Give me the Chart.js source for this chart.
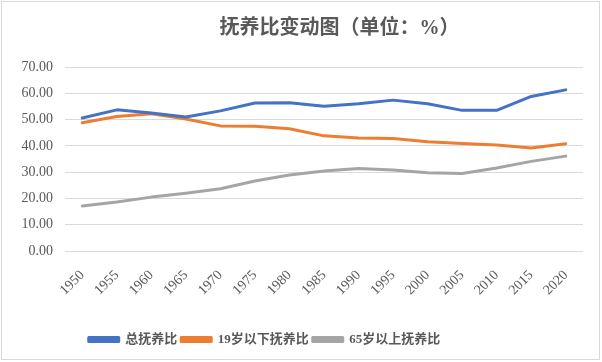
<!DOCTYPE html>
<html>
<head>
<meta charset="utf-8">
<script src="https://cdn.jsdelivr.net/npm/chart.js@4"></script>
<style>
  html, body { margin: 0; padding: 0; background: #fff; }
  #wrap { width: 602px; height: 362px; position: relative; }
</style>
</head>
<body>
<div id="wrap"><canvas id="grafico" width="602" height="362"></canvas></div>
<script>
// 数据
const anos = ['1950', '1955', '1960', '1965', '1970', '1975', '1980', '1985',
              '1990', '1995', '2000', '2005', '2010', '2015', '2020'];
const totalDep = [50.6, 53.7, 52.5, 51.0, 53.3, 56.3, 56.4, 55.1,
                  56.0, 57.4, 56.0, 53.5, 53.5, 58.8, 61.3];
const jovemDep = [48.8, 51.2, 52.2, 50.2, 47.6, 47.5, 46.5, 43.8,
                  43.0, 42.8, 41.6, 40.9, 40.3, 39.2, 40.8];
const idosoDep = [17.1, 18.6, 20.5, 22.0, 23.7, 26.6, 28.9, 30.4,
                  31.4, 30.8, 29.8, 29.5, 31.6, 34.1, 36.1];
const nomesSeries = ['总抚养比', '19岁以下抚养比', '65岁以上抚养比'];
const tituloGrafico = '抚养比变动图（单位：%）';

const FONTE = "'Liberation Serif', 'Noto Sans CJK SC', serif";
const CINZA_TEXTO = '#595959';
const cores = ['#4472C4', '#ED7D31', '#A5A5A5'];

// desloca titulo e legenda como no original
const ajusteLayout = {
    id: 'ajusteLayout',
    afterLayout(chart) {
        const t = chart.titleBlock;
        if (t) { t.left += 48; t.right += 48; }
        const l = chart.legend;
        if (l) { l.left -= 27; l.right -= 27; }
    },
    beforeDraw(chart) {
        const c = chart.ctx;
        c.save();
        c.strokeStyle = '#d9d9d9';
        c.lineWidth = 1;
        c.strokeRect(1.5, 1.5, 598, 358);
        c.restore();
    }
};

const criarSerie = (nome, dados, cor) => ({
    label: nome,
    data: dados,
    borderColor: cor,
    backgroundColor: cor,
    borderWidth: 3,
    pointRadius: 0,
    tension: 0,
    borderCapStyle: 'round',
    borderJoinStyle: 'round'
});

new Chart(document.getElementById('grafico'), {
    type: 'line',
    data: {
        labels: anos,
        datasets: [
            criarSerie(nomesSeries[0], totalDep, cores[0]),
            criarSerie(nomesSeries[1], jovemDep, cores[1]),
            criarSerie(nomesSeries[2], idosoDep, cores[2])
        ]
    },
    options: {
        responsive: false,
        animation: false,
        layout: { padding: { left: 0, right: 19, top: 0, bottom: 6 } },
        plugins: {
            title: {
                display: true,
                text: tituloGrafico,
                color: CINZA_TEXTO,
                font: { family: FONTE, size: 20, weight: 'bold' },
                padding: { top: 17, bottom: 26 }
            },
            legend: {
                position: 'bottom',
                labels: {
                    color: CINZA_TEXTO,
                    font: { family: FONTE, size: 13, weight: 'bold' },
                    boxWidth: 30,
                    boxHeight: 4,
                    padding: 4
                }
            },
            tooltip: { enabled: false }
        },
        scales: {
            x: {
                offset: true,
                grid: { display: false },
                border: { display: false },
                ticks: {
                    color: CINZA_TEXTO,
                    font: { family: FONTE, size: 14 },
                    maxRotation: 45,
                    minRotation: 45,
                    autoSkip: false,
                    padding: 8
                },
                afterFit: (escala) => { escala.height = 78; }
            },
            y: {
                min: 0,
                max: 70,
                grid: { color: '#d9d9d9', lineWidth: 1, drawTicks: false },
                border: { display: false },
                ticks: {
                    stepSize: 10,
                    color: CINZA_TEXTO,
                    font: { family: FONTE, size: 14 },
                    padding: 12,
                    callback: (v) => v.toFixed(2)
                },
                afterFit: (escala) => { escala.width = 65; }
            }
        }
    },
    plugins: [ajusteLayout]
});
</script>
</body>
</html>
